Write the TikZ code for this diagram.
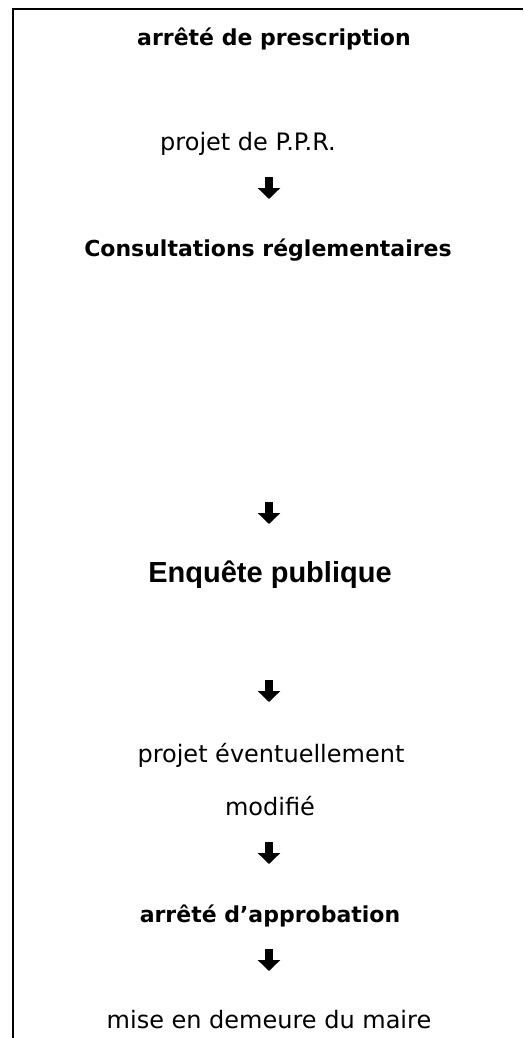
\documentclass[tikz,border=0pt]{standalone}
\usepackage{fontspec}
\setmainfont{DejaVu Sans}
\newfontfamily\arialfont{Liberation Sans}
\usetikzlibrary{arrows.meta}

\tikzset{
  steptext/.style={anchor=base, font=\fontsize{24}{28}\selectfont},
  stepbold/.style={steptext, font=\fontsize{22}{26}\selectfont\bfseries},
  bigarrow/.style={line width=8pt, -{Triangle[width=22pt,length=11pt]}},
}

\begin{document}
\begin{tikzpicture}[x=1pt,y=1pt]
		  \useasboundingbox (0,0) rectangle (523,-1038);
		  % frame
		  \draw[line width=2pt] (13,-1038) -- (13,-9) -- (523,-9);
		  % steps
		  \node[stepbold] (prescr) at (274,-46) {arrêté de prescription};
		  \node[steptext] (projet) at (248,-150) {projet de P.P.R.};
		  \node[stepbold] (consult) at (268,-256) {Consultations réglementaires};
		  \node[anchor=base, font=\arialfont\fontsize{29}{34}\selectfont\bfseries] (enquete) at (270,-582) {Enquête publique};
		  \node[steptext] (modif1) at (271,-762) {projet éventuellement};
		  \node[steptext] (modif2) at (270,-815) {modifié};
		  \node[stepbold] (approb) at (270,-922) {arrêté d’approbation};
		  \node[steptext] (demeure) at (269,-1028) {mise en demeure du maire};
		  % arrows
		  \coordinate (a1) at (269,-177); \coordinate (b1) at (269,-199);
		  \coordinate (a2) at (269,-502); \coordinate (b2) at (269,-524);
		  \coordinate (a3) at (269,-680); \coordinate (b3) at (269,-702);
		  \coordinate (a4) at (269,-842); \coordinate (b4) at (269,-864);
		  \coordinate (a5) at (269,-949); \coordinate (b5) at (269,-971);
		  \draw[bigarrow] (a1) -- (b1);
		  \draw[bigarrow] (a2) -- (b2);
		  \draw[bigarrow] (a3) -- (b3);
		  \draw[bigarrow] (a4) -- (b4);
		  \draw[bigarrow] (a5) -- (b5);
\end{tikzpicture}
\end{document}
